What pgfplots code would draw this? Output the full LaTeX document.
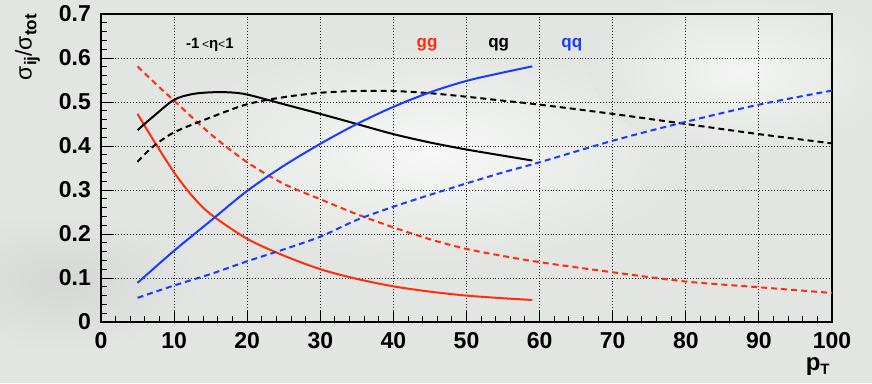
\documentclass[border=0pt]{standalone}
\usepackage{fontspec}
\setmainfont{Liberation Sans}
\usepackage{pgfplots}
\pgfplotsset{compat=1.18}

\definecolor{bgc}{RGB}{226,229,226}
\definecolor{ggred}{RGB}{255,45,15}
\definecolor{qqblue}{RGB}{25,60,255}
\definecolor{gridc}{RGB}{40,40,40}

% gg, qg and qq fractions of the cross section for -1<eta<1 (solid)
% and for the wider rapidity range (dashed)
\pgfplotstableread{
pt    v
5     0.473
7     0.418
10    0.340
12.5  0.286
15    0.245
20    0.189
25    0.151
30    0.120
35    0.098
40    0.081
45    0.069
50    0.060
55    0.054
59    0.050
}\ggsolid
\pgfplotstableread{
pt    v
5     0.581
7.5   0.541
10    0.503
15    0.427
20    0.363
25    0.314
30    0.279
35    0.245
40    0.215
45    0.188
50    0.166
55    0.150
60    0.136
70    0.113
80    0.092
90    0.079
100   0.066
}\ggdash
\pgfplotstableread{
pt    v
5     0.436
7     0.465
10    0.505
12.5  0.518
15    0.522
17.5  0.522
20    0.517
25    0.495
30    0.473
35    0.450
40    0.427
45    0.408
50    0.392
55    0.378
59    0.367
}\qgsolid
\pgfplotstableread{
pt    v
5     0.364
7     0.397
10    0.431
15    0.465
20    0.495
25    0.511
30    0.521
35    0.525
40    0.525
45    0.520
50    0.512
55    0.503
60    0.494
70    0.473
80    0.450
90    0.427
100   0.406
}\qgdash
\pgfplotstableread{
pt    v
5     0.089
10    0.162
15    0.230
20    0.298
25    0.355
30    0.405
35    0.450
40    0.489
45    0.522
50    0.548
55    0.567
59    0.581
}\qqsolid
\pgfplotstableread{
pt    v
5     0.055
10    0.083
15    0.109
20    0.138
25    0.165
30    0.194
35    0.232
40    0.262
45    0.289
50    0.315
55    0.340
60    0.363
70    0.412
80    0.455
90    0.494
100   0.526
}\qqdash

\begin{document}
\begin{tikzpicture}
% soft backdrop; its rectangle sets the size of the picture
\fill[bgc] (-101pt,-61pt) rectangle (771pt,322pt);
\begin{scope}
\clip (-101pt,-61pt) rectangle (771pt,322pt);
\shade[overlay, inner color=white!70!bgc, outer color=bgc] (330pt,170pt) ellipse (260pt and 110pt);
\shade[overlay, inner color=white!60!bgc, outer color=bgc] (640pt,250pt) ellipse (150pt and 80pt);
\shade[overlay, inner color=bgc!94!black, outer color=bgc] (-40pt,40pt) ellipse (140pt and 70pt);
\end{scope}

\begin{axis}[
  at={(0pt,0pt)}, anchor=south west,
  scale only axis, width=731pt, height=308pt,
  xmin=0, xmax=100, ymin=0, ymax=0.7,
  xtick={0,10,...,100}, ytick={0,0.1,...,0.7},
  minor x tick num=4, minor y tick num=4,
  xtick pos=bottom, ytick pos=left, tick align=inside,
  major tick length=12pt, minor tick length=6pt,
  tick style={black, line width=1pt},
  axis line style={black, line width=1.3pt},
  grid=major,
  grid style={gridc, line width=0.9pt, dotted},
  /pgf/number format/assume math mode=true,
  yticklabel style={font=\fontsize{23}{25}\selectfont\bfseries,
                    anchor=east, inner sep=0pt, xshift=-10pt},
  xticklabel style={font=\fontsize{23}{25}\selectfont\bfseries,
                    anchor=base, inner sep=0pt, yshift=-26pt},
  yticklabel={\ifdim\tick pt=0pt 0\else\pgfmathprintnumber[fixed,fixed zerofill,precision=1]{\tick}\fi},
  xlabel={\fontsize{24}{26}\selectfont\bfseries p\raisebox{-0.35ex}{\fontsize{15}{16}\selectfont T}},
  xlabel style={at={(axis description cs:0.997,-0.156)}, anchor=base east, inner sep=0pt},
  ylabel={\fontsize{23}{25}\selectfont σ\raisebox{-0.4ex}{\fontsize{17}{18}\selectfont\bfseries ij}/σ\raisebox{-0.4ex}{\fontsize{17}{18}\selectfont\bfseries tot}},
  ylabel style={at={(axis description cs:-0.118,1.0)}, anchor=north east, inner sep=0pt},
  clip=false,
  every axis plot/.append style={line width=2pt},
]
\addplot[ggred, smooth] table[x=pt, y=v] {\ggsolid};
\addplot[ggred, smooth, dash pattern=on 6pt off 4pt] table[x=pt, y=v] {\ggdash};
\addplot[black, smooth] table[x=pt, y=v] {\qgsolid};
\addplot[black, smooth, dash pattern=on 6pt off 4pt] table[x=pt, y=v] {\qgdash};
\addplot[qqblue, smooth] table[x=pt, y=v] {\qqsolid};
\addplot[qqblue, smooth, dash pattern=on 6pt off 4pt] table[x=pt, y=v] {\qqdash};

\node[anchor=base, font=\fontsize{15}{17}\selectfont\bfseries, inner sep=0pt]
  at (axis cs:14.9,0.621) {-1\,{\mdseries\fontsize{12}{14}\selectfont<}η{\mdseries\fontsize{12}{14}\selectfont<}1};
\node[anchor=base, font=\fontsize{17}{19}\selectfont\bfseries, text=ggred, inner sep=0pt]
  at (axis cs:44.6,0.624) {gg};
\node[anchor=base, font=\fontsize{17}{19}\selectfont\bfseries, text=black, inner sep=0pt]
  at (axis cs:54.4,0.624) {qg};
\node[anchor=base, font=\fontsize{17}{19}\selectfont\bfseries, text=qqblue, inner sep=0pt]
  at (axis cs:64.4,0.624) {qq};
\end{axis}
\end{tikzpicture}
\end{document}
